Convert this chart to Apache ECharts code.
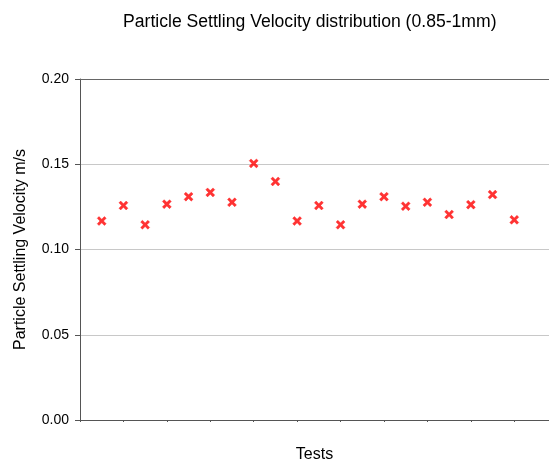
<!DOCTYPE html>
<html>
<head>
<meta charset="utf-8">
<script src="https://cdn.jsdelivr.net/npm/echarts@6/dist/echarts.min.js"></script>
<style>html,body{margin:0;padding:0;background:#fff}#c{width:549px;height:468px}</style>
</head>
<body>
<div id="c"></div>
<script>
var tests = [1,2,3,4,5,6,7,8,9,10,11,12,13,14,15,16,17,18,19,20];
var velocity = [0.1167,0.1258,0.1145,0.1266,0.1310,0.1335,0.1277,0.1505,0.1399,0.1167,
                0.1258,0.1145,0.1266,0.1310,0.1254,0.1277,0.1205,0.1263,0.1322,0.1174];
var yTicks = [0, 0.05, 0.10, 0.15, 0.20];

var FONT = '"Liberation Sans", Arial, sans-serif';
var chart = echarts.init(document.getElementById('c'), null, {renderer:'canvas'});
var crossPath = 'path://M0,2 L2,0 L5,3 L8,0 L10,2 L7,5 L10,8 L8,10 L5,7 L2,10 L0,8 L3,5 Z';
chart.setOption({
  animation:false,
  backgroundColor:'#fff',
  title:{
    text:'Particle Settling Velocity distribution (0.85-1mm)',
    left:118, top:8,
    textStyle:{fontFamily:FONT, fontSize:17.6, fontWeight:'normal', color:'#000'}
  },
  grid:{left:80, top:79, bottom:45.7, right:0},
  xAxis:[{
    type:'value', min:0, max:21.6, interval:2,
    name:'Tests', nameLocation:'middle', nameGap:27,
    nameTextStyle:{fontFamily:FONT, fontSize:16, color:'#000'},
    axisLine:{show:true, onZero:false, lineStyle:{color:'#555', width:1}},
    axisTick:{show:true, length:2, lineStyle:{color:'#555'}},
    axisLabel:{show:false},
    splitLine:{show:false}
  },{
    type:'value', min:0, max:21.6, position:'top',
    axisLine:{show:true, onZero:false, lineStyle:{color:'#666', width:1}},
    axisTick:{show:false}, axisLabel:{show:false}, splitLine:{show:false}
  }],
  yAxis:{
    type:'value', min:yTicks[0], max:yTicks[yTicks.length-1], interval:0.05,
    name:'Particle Settling Velocity m/s', nameLocation:'middle', nameGap:51,
    nameTextStyle:{fontFamily:FONT, fontSize:16, color:'#000'},
    axisLine:{show:true, lineStyle:{color:'#555', width:1}},
    axisTick:{show:true, length:5, lineStyle:{color:'#555'}},
    axisLabel:{fontFamily:FONT, fontSize:14, color:'#000', margin:11,
      formatter:function(v){return v.toFixed(2);}},
    splitLine:{show:true, lineStyle:{color:'#c8c8c8', width:1}}
  },
  series:[{
    type:'scatter',
    data:tests.map(function(t,i){return [t, velocity[i]];}),
    symbol:crossPath,
    symbolSize:9,
    itemStyle:{color:'#ff0000', borderColor:'#ff0000', borderWidth:0.4}
  }]
});
</script>
</body>
</html>
